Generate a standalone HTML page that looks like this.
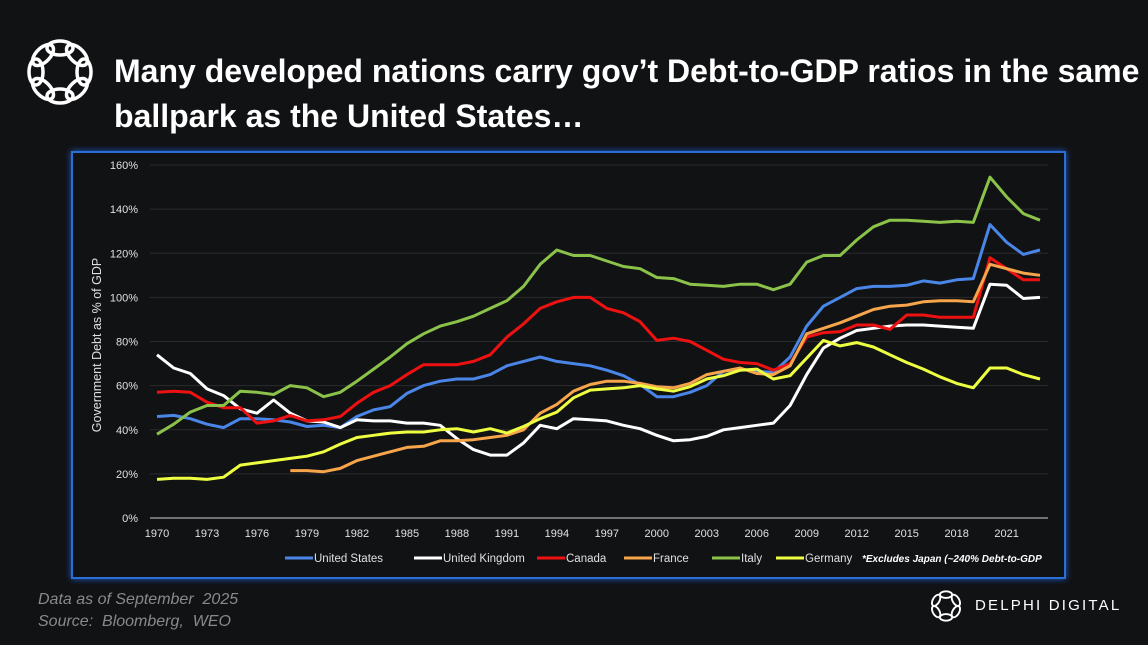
<!DOCTYPE html>
<html><head><meta charset="utf-8"><style>
body{margin:0;background:#111214;width:1148px;height:645px;overflow:hidden;font-family:"Liberation Sans",sans-serif;position:relative}
.title{position:absolute;left:114px;top:49px;color:#fff;font-weight:bold;font-size:32px;line-height:45px;width:1040px;white-space:nowrap}
.box{position:absolute;left:71px;top:151px;width:991px;height:424px;border:2px solid #2a6fd6;box-shadow:0 0 6px #1f5fd0}
.foot{position:absolute;left:38px;top:589px;color:#8a8a8a;font-style:italic;font-size:16px;line-height:22px}
</style></head><body>
<svg style="position:absolute;left:22px;top:34px" width="76" height="76" viewBox="0 0 76 76">
<g fill="none" stroke="#fff" stroke-width="3.5">
<ellipse cx="38" cy="14" rx="13" ry="7"/>
<ellipse cx="38" cy="14" rx="13" ry="7" transform="rotate(45 38 38)"/>
<ellipse cx="38" cy="14" rx="13" ry="7" transform="rotate(90 38 38)"/>
<ellipse cx="38" cy="14" rx="13" ry="7" transform="rotate(135 38 38)"/>
<ellipse cx="38" cy="14" rx="13" ry="7" transform="rotate(180 38 38)"/>
<ellipse cx="38" cy="14" rx="13" ry="7" transform="rotate(225 38 38)"/>
<ellipse cx="38" cy="14" rx="13" ry="7" transform="rotate(270 38 38)"/>
<ellipse cx="38" cy="14" rx="13" ry="7" transform="rotate(315 38 38)"/>
</g></svg>
<div class="title">Many developed nations carry gov’t Debt-to-GDP ratios in the same<br>ballpark as the United States…</div>
<div class="box"></div>
<svg id="chart" style="position:absolute;left:0;top:0" width="1148" height="645"></svg>
<div class="foot">Data as of September &nbsp;2025<br>Source: &nbsp;Bloomberg, &nbsp;WEO</div>
<svg style="position:absolute;left:928px;top:588px" width="36" height="36" viewBox="0 0 76 76">
<g fill="none" stroke="#fff" stroke-width="4">
<ellipse cx="38" cy="14" rx="13" ry="7"/>
<ellipse cx="38" cy="14" rx="13" ry="7" transform="rotate(60 38 38)"/>
<ellipse cx="38" cy="14" rx="13" ry="7" transform="rotate(120 38 38)"/>
<ellipse cx="38" cy="14" rx="13" ry="7" transform="rotate(180 38 38)"/>
<ellipse cx="38" cy="14" rx="13" ry="7" transform="rotate(240 38 38)"/>
<ellipse cx="38" cy="14" rx="13" ry="7" transform="rotate(300 38 38)"/>
</g></svg>
<div style="position:absolute;left:975px;top:597px;color:#fff;font-size:15px;letter-spacing:2.2px">DELPHI DIGITAL</div>
<script>
const years=[];for(let y=1970;y<=2023;y++)years.push(y);
const yTicks=[0,20,40,60,80,100,120,140,160];
const xTickYears=[1970,1973,1976,1979,1982,1985,1988,1991,1994,1997,2000,2003,2006,2009,2012,2015,2018,2021];
const us=[46,46.5,45,42.5,41,45,45,44.5,43.5,41.5,42,41,46,49,50.5,56.5,60,62,63,63,65,69,71,73,71,70,69,67,64.5,60.5,55,55,57,60,66.5,67.5,66.5,66,73,87,96,100,104,105,105,105.5,107.5,106.5,108,108.5,133,125,119.5,121.5];
const uk=[74,68,65.5,58.5,55.5,49.5,47.5,53.5,47.5,44,43.5,41,44.5,44,44,43,43,42,36,31,28.5,28.5,34,42,40.5,45,44.5,44,42,40.5,37.5,35,35.5,37,40,41,42,43,51,65,77,81.5,85,86,87,87.5,87.5,87,86.5,86,106,105.5,99.5,100];
const canada=[57,57.5,57,52.5,50,50,43,44,46.5,44,44.5,46,52,57,60,65,69.5,69.5,69.5,71,74,82,88,95,98,100,100,95,93,89,80.5,81.5,80,76,72,70.5,70,67,70,82,84,84.5,87.5,87.5,85.5,92,92,91,91,91,118,113,108,108];
const france=[null,null,null,null,null,null,null,null,21.5,21.5,21,22.5,26,28,30,32,32.5,35,35,35.5,36.5,37.5,40,47.5,51.5,57.5,60.5,62,62,61,59.5,59,61,65,66.5,68,65.5,65,69,83.5,86,88.5,91.5,94.5,96,96.5,98,98.5,98.5,98,115,113,111,110];
const italy=[38,42.5,48,51,51,57.5,57,56,60,59,55,57,62,67.5,73,79,83.5,87,89,91.5,95,98.5,105,115,121.5,119,119,116.5,114,113,109,108.5,106,105.5,105,106,106,103.5,106,116,119,119,126,132,135,135,134.5,134,134.5,134,154.5,145.5,138,135];
const germany=[17.5,18,18,17.5,18.5,24,25,26,27,28,30,33.5,36.5,37.5,38.5,39,39,40,40.5,39,40.5,38.5,41.5,45,48,54.5,58,58.5,59,60,58.5,57.5,59.5,63,64.5,67,67.5,63,64.5,72.5,80.5,78,79.5,77.5,74,70.5,67.5,64,61,59,68,68,65,63];
const seriesNames=["United States","United Kingdom","Canada","France","Italy","Germany"];
const seriesData=[us,uk,canada,france,italy,germany];
const colors=["#4a86e8","#ffffff","#ee1111","#f6a54a","#8bc34a","#eeff41"];
const svg=document.getElementById('chart');const NS="http://www.w3.org/2000/svg";
const X=y=>157+(y-1970)*16.66;const Y=v=>518-v*2.206;
function el(t,a){const e=document.createElementNS(NS,t);for(const k in a)e.setAttribute(k,a[k]);svg.appendChild(e);return e;}
yTicks.forEach(v=>{
 const l=el('line',{x1:150,x2:1048,y1:Y(v),y2:Y(v),stroke:v===0?'#d0d0d0':'#2a2b2e','stroke-width':1});
 
 
 const t=el('text',{x:138,y:Y(v)+4,fill:'#e0e0e0','font-size':11,'text-anchor':'end','font-family':'Liberation Sans'});t.textContent=v+'%';
 
 
});
xTickYears.forEach(yr=>{
 const t=el('text',{x:X(yr),y:537,fill:'#e0e0e0','font-size':11,'text-anchor':'middle','font-family':'Liberation Sans'});t.textContent=yr;
 
 
});
const yt=el('text',{transform:'translate(101,345) rotate(-90)',fill:'#e0e0e0','font-size':12.5,'text-anchor':'middle','font-family':'Liberation Sans'});yt.textContent='Government  Debt as % of GDP';


seriesData.forEach((d,i)=>{
 let p='';let started=false;
 d.forEach((v,j)=>{if(v==null)return;p+=(started?'L':'M')+X(years[j]).toFixed(1)+','+Y(v).toFixed(1);started=true;});
 const pa=el('path',{d:p,fill:'none',stroke:colors[i],'stroke-width':3,'stroke-linejoin':'round'});
 
 
});
const legX=[285,414,537,624,712,776];
seriesNames.forEach((n,i)=>{
 const ln=el('line',{x1:legX[i],x2:legX[i]+28,y1:558,y2:558,stroke:colors[i],'stroke-width':3});
 
 
 const t=el('text',{x:legX[i]+29,y:562,fill:'#e0e0e0','font-size':11.5,'font-family':'Liberation Sans'});t.textContent=n;
 
 
});
const note=el('text',{x:862,y:562,fill:'#fff','font-size':10,'font-style':'italic','font-weight':'bold','font-family':'Liberation Sans'});note.textContent='*Excludes Japan (~240% Debt-to-GDP';


</script>
</body></html>
